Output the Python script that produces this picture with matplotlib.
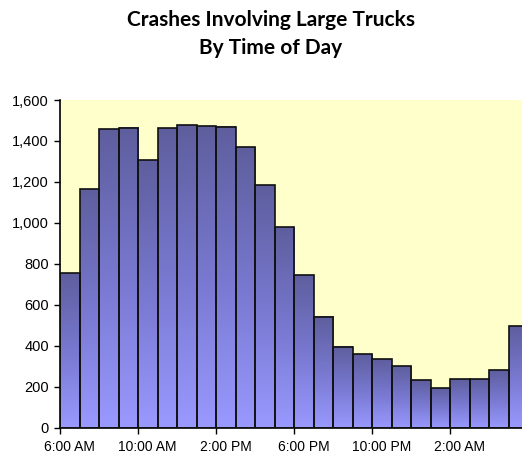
import matplotlib
matplotlib.use("Agg")
import matplotlib.pyplot as plt
import numpy as np
from matplotlib.colors import LinearSegmentedColormap
from matplotlib.ticker import FuncFormatter

hours = ["6:00 AM", "7:00 AM", "8:00 AM", "9:00 AM", "10:00 AM", "11:00 AM",
         "12:00 PM", "1:00 PM", "2:00 PM", "3:00 PM", "4:00 PM", "5:00 PM",
         "6:00 PM", "7:00 PM", "8:00 PM", "9:00 PM", "10:00 PM", "11:00 PM",
         "12:00 AM", "1:00 AM", "2:00 AM", "3:00 AM", "4:00 AM", "5:00 AM"]
crashes = [754, 1164, 1457, 1465, 1306, 1463, 1478, 1473, 1470, 1369, 1185, 980,
           747, 542, 396, 358, 335, 300, 231, 192, 236, 239, 280, 495]
yticks = [0, 200, 400, 600, 800, 1000, 1200, 1400, 1600]

fig = plt.figure(figsize=(5.22, 4.53), dpi=100)
ax = fig.add_axes([60/522, 25.3/453, 468/522, 327.7/453])
ax.set_facecolor("#ffffcc")

x = np.arange(len(crashes))
bars = ax.bar(x, crashes, width=1.0, color="none", edgecolor="#111111",
              linewidth=1.2, zorder=3)

cmap = LinearSegmentedColormap.from_list("g", ["#9999ff", "#7878d0", "#5e5e9e"])
grad = np.linspace(0, 1, 256).reshape(-1, 1)
for b in bars:
    x0 = b.get_x()
    w = b.get_width()
    h = b.get_height()
    ax.imshow(grad, cmap=cmap, aspect="auto", origin="lower",
              extent=(x0, x0 + w, 0, h), zorder=2, interpolation="bilinear")

ax.set_xlim(-0.5, len(crashes) - 0.5)
ax.set_ylim(0, 1600)
ax.set_yticks(yticks)
ax.yaxis.set_major_formatter(FuncFormatter(lambda v, p: f"{int(v):,}"))

ax.set_xticks(x[::4])
ax.set_xticklabels(hours[::4])
ax.set_xticks(np.arange(-0.5, len(crashes), 4), minor=True)
ax.tick_params(axis="x", which="major", length=0, labelsize=10, pad=9)
ax.tick_params(axis="x", which="minor", length=4, width=1, direction="out")
ax.tick_params(axis="y", length=4, width=1, direction="out", labelsize=10.5, pad=4)
for lab in ax.get_xticklabels() + ax.get_yticklabels():
    lab.set_fontfamily("Liberation Sans")

for s in ["top", "right"]:
    ax.spines[s].set_visible(False)
ax.spines["left"].set_linewidth(1.2)
ax.spines["bottom"].set_linewidth(1.2)

fig.text(271/522, 1 - 34/453, "Crashes Involving Large Trucks\nBy Time of Day",
         ha="center", va="center", fontsize=15, fontweight="bold",
         family="Lato", linespacing=1.5)

fig.savefig("out.png", dpi=100)
